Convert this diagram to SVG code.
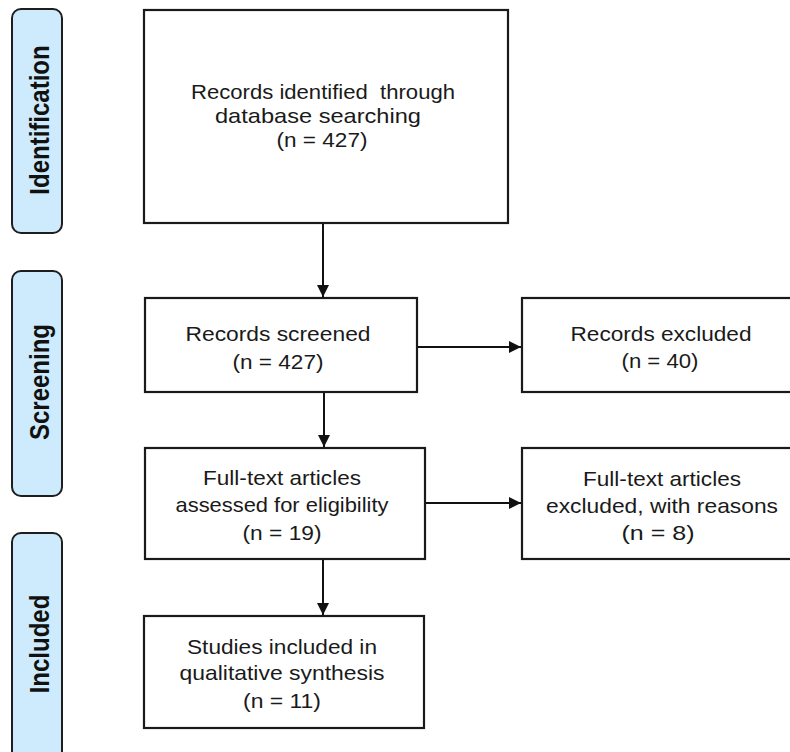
<svg xmlns="http://www.w3.org/2000/svg" width="790" height="752" viewBox="0 0 790 752">
<style>
.pill{fill:#cdebfc;stroke:#1e1e1e;stroke-width:2}
.box{fill:#fff;stroke:#1a1a1a;stroke-width:2.2}
.lbl{font-family:"Liberation Sans",Arial,sans-serif;font-weight:bold;font-size:24px;fill:#111;text-anchor:middle}
.t{font-family:"Liberation Sans",Arial,sans-serif;font-size:21px;fill:#1a1a1a;text-anchor:middle}
.c{stroke:#111;stroke-width:2;fill:none}
</style>
<defs>
<marker id="ah" viewBox="0 0 12 12" refX="12" refY="6" markerWidth="12" markerHeight="12" markerUnits="userSpaceOnUse" orient="auto">
<path d="M0,0 L12,6 L0,12 Z" fill="#111"/>
</marker>
</defs>
<rect width="790" height="752" fill="#fff"/>
<g id="phase-identification">
<rect class="pill" x="12" y="9" width="50" height="224" rx="9"/>
<text class="lbl" transform="translate(49,120) scale(1.12,1) rotate(-90)">Identification</text>
</g>
<g id="phase-screening">
<rect class="pill" x="12" y="271" width="50" height="225" rx="9"/>
<text class="lbl" transform="translate(49,382) scale(1.12,1) rotate(-90)">Screening</text>
</g>
<g id="phase-included">
<rect class="pill" x="12" y="533" width="50" height="235" rx="9"/>
<text class="lbl" transform="translate(49,644) scale(1.12,1) rotate(-90)">Included</text>
</g>
<g id="connectors">
<line class="c" x1="323" y1="223" x2="323" y2="297" marker-end="url(#ah)"/>
<line class="c" x1="324" y1="392" x2="324" y2="447" marker-end="url(#ah)"/>
<line class="c" x1="323" y1="559" x2="323" y2="615" marker-end="url(#ah)"/>
<line class="c" x1="417" y1="347" x2="521" y2="347" marker-end="url(#ah)"/>
<line class="c" x1="425" y1="503" x2="521" y2="503" marker-end="url(#ah)"/>
</g>
<g id="identified">
<rect class="box" x="144" y="10" width="364" height="213"/>
<text class="t" x="323" y="99" textLength="264" lengthAdjust="spacingAndGlyphs">Records identified&#160; through</text>
<text class="t" x="318" y="123" textLength="206" lengthAdjust="spacingAndGlyphs">database searching</text>
<text class="t" x="322" y="147" textLength="91" lengthAdjust="spacingAndGlyphs">(n = 427)</text>
</g>
<g id="screened">
<rect class="box" x="145" y="298" width="272" height="94"/>
<text class="t" x="278" y="341" textLength="185" lengthAdjust="spacingAndGlyphs">Records screened</text>
<text class="t" x="278" y="369" textLength="91" lengthAdjust="spacingAndGlyphs">(n = 427)</text>
</g>
<g id="excluded">
<rect class="box" x="522" y="298" width="280" height="94"/>
<text class="t" x="661" y="341" textLength="181" lengthAdjust="spacingAndGlyphs">Records excluded</text>
<text class="t" x="660" y="368" textLength="77" lengthAdjust="spacingAndGlyphs">(n = 40)</text>
</g>
<g id="assessed">
<rect class="box" x="145" y="448" width="280" height="111"/>
<text class="t" x="282" y="485" textLength="158" lengthAdjust="spacingAndGlyphs">Full-text articles</text>
<text class="t" x="282" y="512" textLength="213" lengthAdjust="spacingAndGlyphs">assessed for eligibility</text>
<text class="t" x="282" y="540" textLength="79" lengthAdjust="spacingAndGlyphs">(n = 19)</text>
</g>
<g id="fulltext-excluded">
<rect class="box" x="522" y="448" width="280" height="111"/>
<text class="t" x="662" y="486" textLength="158" lengthAdjust="spacingAndGlyphs">Full-text articles</text>
<text class="t" x="662" y="513" textLength="232" lengthAdjust="spacingAndGlyphs">excluded, with reasons</text>
<text class="t" x="658" y="540" textLength="73" lengthAdjust="spacingAndGlyphs">(n = 8)</text>
</g>
<g id="included">
<rect class="box" x="144" y="616" width="280" height="112"/>
<text class="t" x="282" y="654" textLength="190" lengthAdjust="spacingAndGlyphs">Studies included in</text>
<text class="t" x="282" y="680" textLength="205" lengthAdjust="spacingAndGlyphs">qualitative synthesis</text>
<text class="t" x="282" y="708" textLength="78" lengthAdjust="spacingAndGlyphs">(n = 11)</text>
</g>
</svg>
